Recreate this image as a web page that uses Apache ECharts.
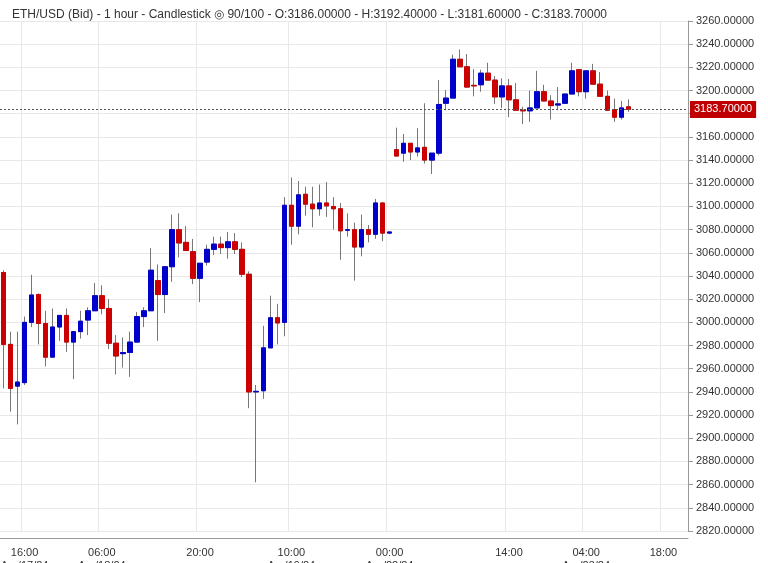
<!DOCTYPE html>
<html><head><meta charset="utf-8">
<script src="https://cdn.jsdelivr.net/npm/echarts@6/dist/echarts.min.js"></script>
<style>html,body{margin:0;padding:0;background:#fff}#c{width:768px;height:563px}</style>
</head><body><div id="c"></div>
<script>
const opens = [3043,2981,2945,2948,3000,3024,2999,2970,2996,3006,2983,2992,3002,3010,3023,3012,2982,2973,2974,2983,3005,3010,3036,3024,3048,3080,3069,3061,
3038,3052,3063,3067.5,3064.5,3069.5,3063,3041.5,2940,2941,2978,3004,3000,3101,3083,3110.5,3102,3098,3103,3100,3098,3079.5,3080,3065,3080,3076,3103,3077,
3149,3146,3154.5,3147,3151,3140,3146,3189,3193.5,3227,3220.5,3204.5,3205,3215,3209,3194.5,3204,3192,3183,3182.5,3185,3199,3191,3187.5,3189,3197,3218,3199,3217,3205.5,3195,3183.5,3177,3186];
const highs = [3045,2992,2992,3005,3041,3025,3010,3012,3006,3012,2992,3010,3013,3034,3032,3020,2989,2987,2992,3009,3013,3064,3050,3048,3093,3094,3083,3072,
3051,3067,3074,3074,3078,3077,3069,3044,2946,2997,3023,3016,3108,3125,3122,3117,3117,3119,3121,3108,3103,3094,3086,3093,3084,3106.5,3103,3078,
3168,3162.5,3154.5,3167.5,3189,3146,3209,3200.5,3231,3235.5,3231.5,3218.5,3218,3224,3212.5,3210.5,3210,3206.5,3186,3200,3217,3205,3196,3203,3197,3224,3218,3217,3223,3216,3200,3193,3191,3192.4];
const lows = [2943,2923,2912,2946,2996,2981,2962,2970,2984,2974.5,2951,2986,2989,3010,3007,2977,2955,2961,2953,2983,2996,3010,2984,3008,3035,3056,3062,3033,
3017.5,3049,3058,3059,3055,3059,3039,2926,2862,2934,2978,2981,2988,3067,3076,3092,3082,3092,3091,3080,3054,3074,3036,3057,3069,3072,3070,3076,
3143.5,3138.5,3140,3143,3137,3128,3144,3183,3193.5,3220.5,3203,3195,3199,3209,3188.5,3185,3177,3183,3171,3173,3185,3191,3175,3183,3189,3197,3195,3193,3205.5,3195,3183,3173,3175,3181.6];
const closes = [2981,2943,2948.5,3000,3023.6,2999,2970,2996,3006,2983,2992,3001,3010,3023,3012,2982,2971,2974,2983,3005,3010,3045,3024,3048,3080,3068.5,3062,3038,
3051,3063,3067.5,3064.5,3069.5,3063,3041.5,2940,2940.5,2978,3004,2999.5,3101,3083,3110,3102,3098,3103,3100.5,3098,3079,3080,3065,3080,3076,3103,3077,3078,
3143.5,3154.5,3147,3150.5,3140,3146,3188,3193.5,3227,3220.5,3203,3204,3215,3209,3194.5,3204,3192,3183,3182.5,3185,3199,3191,3187,3188.5,3197,3217,3199,3217,3205.5,3195,3183,3177,3185,3183.7];
const lastPrice = 3183.7;
const slotCount = 98;
const tickLabels = {3:"16:00\nApr/17/24",14:"06:00\nApr/18/24",28:"20:00",41:"10:00\nApr/19/24",55:"00:00\nApr/22/24",72:"14:00",83:"04:00\nApr/23/24",94:"18:00"};
const yMin = 2820, yMax = 3260, yStep = 20;

const cats = Array.from({length: slotCount}, (_, i) => String(i));
const wickData = opens.map((o, i) => [o, closes[i], lows[i], highs[i]]);
const bodyData = opens.map((o, i) => [o, closes[i], Math.min(o, closes[i]), Math.max(o, closes[i])]);
const isTick = (i) => tickLabels[i] !== undefined;

const chart = echarts.init(document.getElementById('c'));
chart.setOption({
  animation: false,
  title: {text: 'ETH/USD (Bid) - 1 hour - Candlestick \u25CE 90/100 - O:3186.00000 - H:3192.40000 - L:3181.60000 - C:3183.70000',
    left: 7, top: 4, textStyle: {fontSize: 12, fontWeight: 'normal', color: '#333', fontFamily: 'Arial, Liberation Sans'}},
  grid: {left: 0, right: 80, top: 21, bottom: 32, outerBoundsMode: 'none', containLabel: false},
  xAxis: {type: 'category', data: cats, boundaryGap: true, offset: 7,
    axisLine: {lineStyle: {color: '#999'}},
    axisTick: {interval: (i) => isTick(i), lineStyle: {color: '#999'}, alignWithLabel: true},
    axisLabel: {interval: (i) => isTick(i), formatter: (v, i) => tickLabels[i] || '', color: '#333', fontSize: 11, lineHeight: 13, fontFamily: 'Arial, Liberation Sans'},
    splitLine: {show: true, interval: (i) => isTick(i), lineStyle: {color: '#e8e8e8'}}},
  yAxis: {type: 'value', position: 'right', min: yMin, max: yMax, interval: yStep, scale: true,
    axisLine: {show: true, lineStyle: {color: '#999'}},
    axisTick: {show: true, lineStyle: {color: '#999'}},
    axisLabel: {formatter: (v) => v.toFixed(5), color: '#333', fontSize: 11, fontFamily: 'Arial, Liberation Sans'},
    splitLine: {lineStyle: {color: '#e8e8e8'}}},
  series: [
    {type: 'candlestick', data: wickData, barWidth: 5,
      itemStyle: {color: '#777', color0: '#777', borderColor: '#777', borderColor0: '#777', borderWidth: 1},
      markLine: {symbol: 'none', silent: true, data: [{yAxis: lastPrice}],
        lineStyle: {color: '#555', type: [2, 2], width: 1},
        label: {position: 'end', formatter: lastPrice.toFixed(5), backgroundColor: '#c00000', color: '#fff', padding: [3, 4], fontSize: 11, fontFamily: 'Arial, Liberation Sans', distance: 2}}},
    {type: 'candlestick', data: bodyData, barWidth: 5, barGap: '-100%',
      itemStyle: {color: '#0000cc', color0: '#cc0000', borderColor: '#0000cc', borderColor0: '#cc0000', borderWidth: 1}}
  ]
});
</script></body></html>
